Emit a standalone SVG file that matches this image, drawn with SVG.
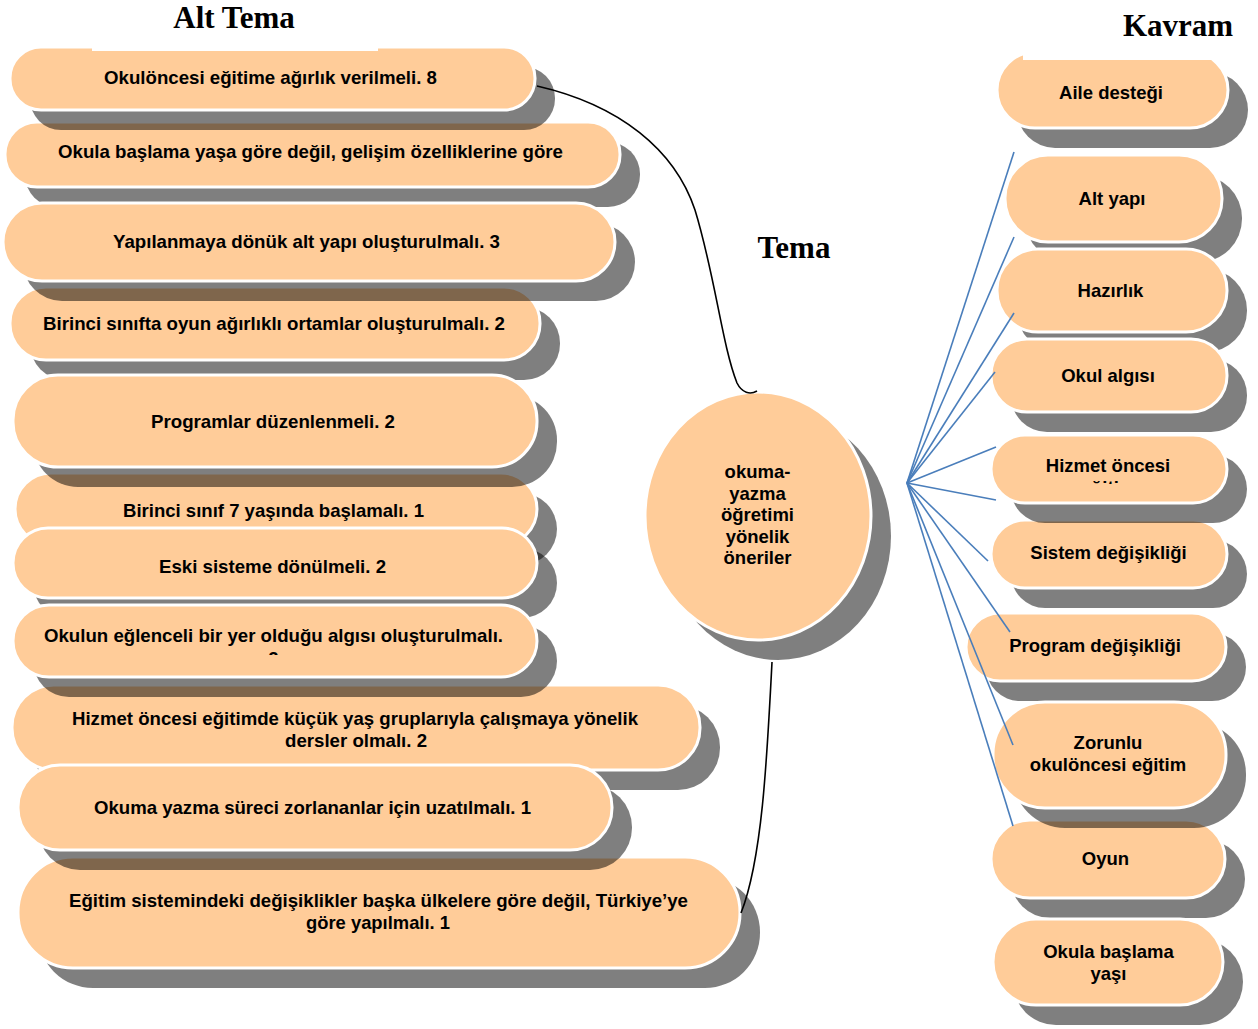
<svg xmlns="http://www.w3.org/2000/svg" width="1258" height="1029" viewBox="0 0 1258 1029">
<style>
.sh{fill:#000;opacity:.5}
.nf{fill:#FFCC99;stroke:#fff;stroke-width:3}
.t{font-family:"Liberation Sans",Arial,sans-serif;font-weight:bold;font-size:18.5px;text-anchor:middle;fill:#000}
.ttl{font-family:"Liberation Serif","Times New Roman",serif;font-weight:bold;font-size:31px;text-anchor:middle;fill:#000}
.blue{stroke:#4A7EBB;stroke-width:1.6;fill:none}
.blk{stroke:#000;stroke-width:1.6;fill:none}
</style>
<defs>
<clipPath id="clipL8"><rect x="0" y="590" width="560" height="65"/></clipPath>
<clipPath id="clipR5"><rect x="960" y="430" width="298" height="54"/></clipPath>
</defs>
<rect width="1258" height="1029" fill="#fff"/>

<g id="alt-tema-nodes">
<g id="L2"><rect class="sh" x="25" y="142" width="615" height="65" rx="32"/><rect class="nf" x="5" y="122" width="615" height="65" rx="32"/><text class="t" x="310.5" y="158" textLength="505" lengthAdjust="spacingAndGlyphs">Okula başlama yaşa göre değil, gelişim özelliklerine göre</text></g>
<g id="L1"><rect class="sh" x="30" y="67" width="525" height="63" rx="31"/><rect class="nf" x="10" y="47" width="525" height="63" rx="31"/><text class="t" x="270.5" y="84" textLength="333" lengthAdjust="spacingAndGlyphs">Okulöncesi eğitime ağırlık verilmeli. 8</text></g>
<g id="L4"><rect class="sh" x="30" y="307" width="530" height="73" rx="36"/><rect class="nf" x="10" y="287" width="530" height="73" rx="36"/><text class="t" x="274" y="330" textLength="462" lengthAdjust="spacingAndGlyphs">Birinci sınıfta oyun ağırlıklı ortamlar oluşturulmalı. 2</text></g>
<g id="L3"><rect class="sh" x="23" y="223" width="612" height="78" rx="39"/><rect class="nf" x="3" y="203" width="612" height="78" rx="39"/><text class="t" x="306.5" y="248" textLength="387" lengthAdjust="spacingAndGlyphs">Yapılanmaya dönük alt yapı oluşturulmalı. 3</text></g>
<g id="L6"><rect class="sh" x="35" y="493" width="522" height="72" rx="36"/><rect class="nf" x="15" y="473" width="522" height="72" rx="36"/><text class="t" x="273.5" y="517" textLength="301" lengthAdjust="spacingAndGlyphs">Birinci sınıf 7 yaşında başlamalı. 1</text></g>
<g id="L7"><rect class="sh" x="33" y="548" width="524" height="70" rx="35"/><rect class="nf" x="13" y="528" width="524" height="70" rx="35"/><text class="t" x="272.5" y="573" textLength="227" lengthAdjust="spacingAndGlyphs">Eski sisteme dönülmeli. 2</text></g>
<g id="L5"><rect class="sh" x="33" y="395" width="524" height="92" rx="45"/><rect class="nf" x="13" y="375" width="524" height="92" rx="45"/><text class="t" x="273" y="428" textLength="244" lengthAdjust="spacingAndGlyphs">Programlar düzenlenmeli. 2</text></g>
<g id="L9"><rect class="sh" x="32" y="705" width="688" height="85" rx="42"/><rect class="nf" x="12" y="685" width="688" height="85" rx="42"/><text class="t" x="355" y="725" textLength="566" lengthAdjust="spacingAndGlyphs">Hizmet öncesi eğitimde küçük yaş gruplarıyla çalışmaya yönelik</text><text class="t" x="356" y="747" textLength="142" lengthAdjust="spacingAndGlyphs">dersler olmalı. 2</text></g>
<g id="L8"><rect class="sh" x="33" y="625" width="524" height="72" rx="36"/><rect class="nf" x="13" y="605" width="524" height="72" rx="36"/><text class="t" x="273.5" y="642" textLength="459" lengthAdjust="spacingAndGlyphs">Okulun eğlenceli bir yer olduğu algısı oluşturulmalı.</text><text class="t" x="273.5" y="665" clip-path="url(#clipL8)">2</text></g>
<g id="L11"><rect class="sh" x="38" y="877" width="722" height="111" rx="55"/><rect class="nf" x="18" y="857" width="722" height="111" rx="55"/><text class="t" x="378.5" y="907" textLength="619" lengthAdjust="spacingAndGlyphs">Eğitim sistemindeki değişiklikler başka ülkelere göre değil, Türkiye’ye</text><text class="t" x="378" y="929" textLength="144" lengthAdjust="spacingAndGlyphs">göre yapılmalı. 1</text></g>
<g id="L10"><rect class="sh" x="38" y="785" width="594" height="85" rx="42"/><rect class="nf" x="18" y="765" width="594" height="85" rx="42"/><text class="t" x="312.5" y="814" textLength="437" lengthAdjust="spacingAndGlyphs">Okuma yazma süreci zorlananlar için uzatılmalı. 1</text></g>
</g>

<g id="tema-node">
<ellipse class="sh" cx="778" cy="536" rx="113" ry="124"/>
<ellipse class="nf" cx="758" cy="516" rx="113" ry="124"/>
<text class="t" x="757.5" y="478">okuma-</text>
<text class="t" x="757.5" y="500">yazma</text>
<text class="t" x="757.5" y="521">öğretimi</text>
<text class="t" x="757.5" y="543">yönelik</text>
<text class="t" x="757.5" y="564">öneriler</text>
</g>

<g id="kavram-nodes">
<g id="R1"><rect class="sh" x="1017" y="72" width="231" height="76" rx="38"/><rect class="nf" x="997" y="52" width="231" height="76" rx="38"/><text class="t" x="1111" y="99">Aile desteği</text></g>
<g id="R2"><rect class="sh" x="1025" y="175" width="217" height="87" rx="43"/><rect class="nf" x="1005" y="155" width="217" height="87" rx="43"/><text class="t" x="1112" y="205">Alt yapı</text></g>
<g id="R3"><rect class="sh" x="1017" y="269" width="230" height="83" rx="41"/><rect class="nf" x="997" y="249" width="230" height="83" rx="41"/><text class="t" x="1110.5" y="297">Hazırlık</text></g>
<g id="R4"><rect class="sh" x="1011" y="359" width="236" height="73" rx="36"/><rect class="nf" x="991" y="339" width="236" height="73" rx="36"/><text class="t" x="1108" y="382">Okul algısı</text></g>
<g id="R6"><rect class="sh" x="1011" y="540" width="236" height="68" rx="34"/><rect class="nf" x="991" y="520" width="236" height="68" rx="34"/><text class="t" x="1108.5" y="559">Sistem değişikliği</text></g>
<g id="R5"><rect class="sh" x="1011" y="455" width="236" height="68" rx="34"/><rect class="nf" x="991" y="435" width="236" height="68" rx="34"/><text class="t" x="1108" y="472">Hizmet öncesi</text><text class="t" x="1108" y="494" clip-path="url(#clipR5)">eğitim</text></g>
<g id="R7"><rect class="sh" x="986" y="633" width="260" height="68" rx="34"/><rect class="nf" x="966" y="613" width="260" height="68" rx="34"/><text class="t" x="1095" y="652">Program değişikliği</text></g>
<g id="R9"><rect class="sh" x="1011" y="840" width="234" height="78" rx="39"/><rect class="nf" x="991" y="820" width="234" height="78" rx="39"/><text class="t" x="1105.5" y="865">Oyun</text></g>
<g id="R8"><rect class="sh" x="1013" y="722" width="233" height="106" rx="52"/><rect class="nf" x="993" y="702" width="233" height="106" rx="52"/><text class="t" x="1108" y="749">Zorunlu</text><text class="t" x="1108" y="771">okulöncesi eğitim</text></g>
<g id="R10"><rect class="sh" x="1013" y="939" width="230" height="86" rx="43"/><rect class="nf" x="993" y="919" width="230" height="86" rx="43"/><text class="t" x="1108.5" y="958">Okula başlama</text><text class="t" x="1108.5" y="980">yaşı</text></g>
</g>

<g id="titles">
<g id="title-alt-tema"><rect x="92" y="0" width="286" height="51" fill="#fff"/><text class="ttl" x="234" y="28">Alt Tema</text></g>
<g id="title-kavram"><rect x="1023" y="0" width="235" height="60" fill="#fff"/><text class="ttl" x="1178" y="36">Kavram</text></g>
<g id="title-tema"><text class="ttl" x="794" y="258">Tema</text></g>
</g>

<g id="connectors">
<path class="blk" d="M537,86 C620,105 675,150 695,210 C715,275 722,345 737,383 C742,393 750,395 757,391"/>
<path class="blk" d="M772,662 C767,760 762,860 741,913"/>
<g class="blue">
<line x1="907" y1="483" x2="1014" y2="152"/>
<line x1="907" y1="483" x2="1014" y2="237"/>
<line x1="907" y1="483" x2="1014" y2="313"/>
<line x1="907" y1="483" x2="995" y2="372"/>
<line x1="907" y1="483" x2="996" y2="447"/>
<line x1="907" y1="483" x2="996" y2="500"/>
<line x1="907" y1="483" x2="988" y2="561"/>
<line x1="907" y1="483" x2="1010" y2="632"/>
<line x1="907" y1="483" x2="1013" y2="745"/>
<line x1="907" y1="483" x2="1013" y2="826"/>
</g>
</g>
</svg>
